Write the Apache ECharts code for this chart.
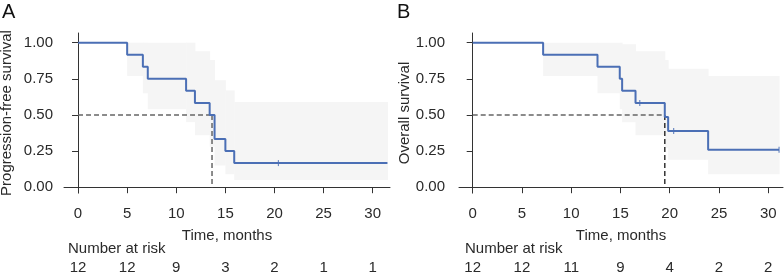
<!DOCTYPE html>
<html>
<head>
<meta charset="utf-8">
<script src="https://cdn.jsdelivr.net/npm/echarts@6/dist/echarts.min.js"></script>
<style>
  html, body { margin: 0; padding: 0; background: #fff; }
  #main { width: 784px; height: 272px; }
</style>
</head>
<body>
<div id="main"></div>
<script>
// ---- data ----
var timeTicks = [0, 5, 10, 15, 20, 25, 30];
var survTicks = [0, 0.25, 0.5, 0.75, 1];

// panel A: progression-free survival
var pfsCurve = [[0, 1], [5, 0.917], [6.6, 0.833], [7.1, 0.75], [11, 0.667], [11.9, 0.583],
                [13.4, 0.5], [13.9, 0.333], [15, 0.25], [15.9, 0.167], [31.5, 0.167]];
var pfsCensor = [[20.4, 0.167]];
// [from, to, lower, upper]
var pfsBand = [[5, 6.6, 0.77, 1], [6.6, 7.1, 0.65, 1], [7.1, 11, 0.54, 1], [11, 11.9, 0.45, 1],
               [11.9, 13.4, 0.36, 0.94], [13.4, 13.9, 0.28, 0.88], [13.9, 15, 0.15, 0.74],
               [15, 15.9, 0.09, 0.67], [15.9, 31.5, 0.05, 0.59]];
var pfsMedian = 13.64;
var pfsRisk = [12, 12, 9, 3, 2, 1, 1];

// panel B: overall survival
var osCurve = [[0, 1], [7.15, 0.917], [12.67, 0.833], [14.93, 0.75], [15.17, 0.667], [16.53, 0.583],
               [19.5, 0.486], [19.84, 0.389], [23.9, 0.259], [31.1, 0.259]];
var osCensor = [[16.96, 0.583], [20.4, 0.389], [31.1, 0.259]];
var osBand = [[7.15, 12.67, 0.77, 1], [12.67, 14.93, 0.65, 1], [14.93, 15.17, 0.54, 1],
              [15.17, 16.53, 0.45, 0.99], [16.53, 19.5, 0.36, 0.94], [19.5, 19.84, 0.27, 0.88],
              [19.84, 23.9, 0.19, 0.82], [23.9, 31.1, 0.09, 0.77]];
var osMedian = 19.5;
var osRisk = [12, 12, 11, 9, 4, 2, 2];

var FONT = '"Liberation Sans", Arial, Helvetica, sans-serif';
var FS = 15;
var TXT = '#2a2a2a';
var BLUE = '#4b6fb5';

var myChart = echarts.init(document.getElementById('main'));

function xAxes(idx, min, max, risk) {
    return [{
        type: 'value', gridIndex: idx, min: min, max: max,
        name: 'Time, months', nameLocation: 'middle', nameGap: 35,
        nameTextStyle: { color: TXT, fontSize: FS, fontFamily: FONT },
        axisLine: { show: true, lineStyle: { color: '#333', width: 1 } },
        axisTick: { show: true, length: 6, customValues: timeTicks, lineStyle: { color: '#333' } },
        axisLabel: { customValues: timeTicks, margin: 13, color: TXT, fontSize: FS, fontFamily: FONT },
        splitLine: { show: false }
    }, {
        // number-at-risk row
        type: 'value', gridIndex: idx, min: min, max: max, position: 'bottom', offset: 62,
        axisLine: { show: false }, axisTick: { show: false }, splitLine: { show: false },
        axisLabel: {
            customValues: timeTicks, margin: 5, color: TXT, fontSize: FS, fontFamily: FONT,
            formatter: function (v) { return String(risk[Math.round(v / 5)]); }
        }
    }];
}

function yAxis(idx, title, gap, labelGap) {
    return {
        type: 'value', gridIndex: idx, min: -0.04, max: 1.067,
        name: title, nameLocation: 'middle', nameGap: gap, nameRotate: 90,
        nameTextStyle: { color: TXT, fontSize: FS, fontFamily: FONT },
        axisLine: { show: true, lineStyle: { color: '#333', width: 1 } },
        axisTick: { show: true, length: 6, customValues: survTicks, lineStyle: { color: '#333' } },
        axisLabel: {
            customValues: survTicks, margin: labelGap, color: TXT, fontSize: FS, fontFamily: FONT,
            formatter: function (v) { return v.toFixed(2); }
        },
        splitLine: { show: false }
    };
}

function panelSeries(idx, curve, censor, band, median, vColor) {
    return [{
        type: 'custom', xAxisIndex: idx * 2, yAxisIndex: idx, data: band, silent: true, z: 1,
        renderItem: function (params, api) {
            var p0 = api.coord([api.value(0), api.value(3)]);
            var p1 = api.coord([api.value(1), api.value(2)]);
            return {
                type: 'rect',
                shape: { x: p0[0], y: p0[1], width: p1[0] - p0[0] + 0.5, height: p1[1] - p0[1] },
                style: { fill: '#f5f5f5' }
            };
        }
    }, {
        type: 'line', xAxisIndex: idx * 2, yAxisIndex: idx, z: 3,
        data: [[0, 0.5], [median, 0.5]], symbol: 'none', silent: true,
        lineStyle: { color: '#666', width: 1.5, type: [5, 3] }
    }, {
        type: 'line', xAxisIndex: idx * 2, yAxisIndex: idx, z: 3,
        data: [[median, 0.5], [median, 0]], symbol: 'none', silent: true,
        lineStyle: { color: vColor, width: 1.5, type: [5, 3] }
    }, {
        type: 'line', xAxisIndex: idx * 2, yAxisIndex: idx, z: 4,
        data: curve, step: 'end', symbol: 'none', silent: true,
        lineStyle: { color: BLUE, width: 2 }
    }, {
        type: 'scatter', xAxisIndex: idx * 2, yAxisIndex: idx, z: 5,
        data: censor, symbol: 'rect', symbolSize: [1.2, 6], silent: true,
        itemStyle: { color: BLUE }
    }];
}

var option = {
    animation: false,
    textStyle: { fontFamily: FONT },
    grid: [
        { left: 64, top: 33, width: 326, height: 160, outerBoundsMode: 'none' },
        { left: 459, top: 33, width: 324, height: 160, outerBoundsMode: 'none' }
    ],
    xAxis: xAxes(0, -1.43, 31.76, pfsRisk).concat(xAxes(1, -1.39, 31.5, osRisk)),
    yAxis: [yAxis(0, 'Progression-free survival', 50, 11), yAxis(1, 'Overall survival', 47, 14)],
    graphic: [
        { type: 'text', left: 2, top: 2, style: { text: 'A', fontSize: 20, fontFamily: FONT, fill: '#111' } },
        { type: 'text', left: 397, top: 2, style: { text: 'B', fontSize: 20, fontFamily: FONT, fill: '#111' } },
        { type: 'text', left: 68, top: 241, style: { text: 'Number at risk', fontSize: FS, fontFamily: FONT, fill: TXT } },
        { type: 'text', left: 465, top: 241, style: { text: 'Number at risk', fontSize: FS, fontFamily: FONT, fill: TXT } }
    ],
    series: panelSeries(0, pfsCurve, pfsCensor, pfsBand, pfsMedian, '#666')
        .concat(panelSeries(1, osCurve, osCensor, osBand, osMedian, '#333'))
};

myChart.setOption(option);
</script>
</body>
</html>
